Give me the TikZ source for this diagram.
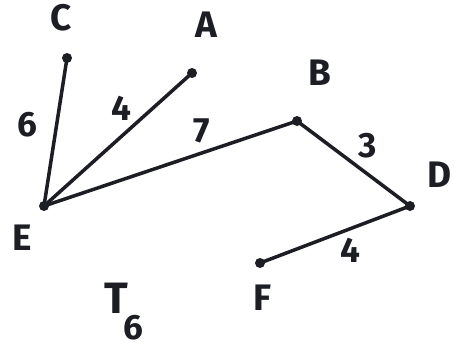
\documentclass[tikz,border=0pt]{standalone}
\usepackage{fontspec}
\setmainfont{Fira Sans}
\usetikzlibrary{positioning}
\definecolor{Ink}{RGB}{28,30,36}
\tikzset{
  vertex/.style={circle,fill=Ink,inner sep=0pt,minimum size=0.2cm},
  lbl/.style={Ink,font=\fontsize{21}{24}\selectfont\bfseries},
  wlbl/.style={Ink,font=\fontsize{20}{24}\selectfont\bfseries},
  connect/.style={Ink,line width=2pt,line cap=round}
}
\begin{document}
\begin{tikzpicture}[x=0.02cm,y=-0.02cm]
  \useasboundingbox[fill=white] (0,0) rectangle (454,349);
  % vertices
  \node[vertex] (C) at (67,58) {};
  \node[vertex] (A) at (192,73) {};
  \node[vertex] (B) at (297,121) {};
  \node[vertex] (D) at (410,206) {};
  \node[vertex] (E) at (44,206) {};
  \node[vertex] (F) at (260,263) {};
  % vertex names
  \node[lbl] (Cname) at (61,18) {C};
  \node[lbl] (Aname) at (206,25) {A};
  \node[lbl] (Bname) at (320,73) {B};
  \node[lbl] (Dname) at (440,175) {D};
  \node[lbl] (Ename) at (22,238) {E};
  \node[lbl] (Fname) at (262,298) {F};
  % edges
  \draw[connect] (E.center) -- (C.center);
  \draw[connect] (E.center) -- (A.center);
  \draw[connect] (E.center) -- (B.center);
  \draw[connect] (B.center) -- (D.center);
  \draw[connect] (D.center) -- (F.center);
  % weights
  \node[wlbl] (wEC) at (27,125) {6};
  \node[wlbl] (wEA) at (121,108) {4};
  \node[wlbl] (wEB) at (202,131) {7};
  \node[wlbl] (wBD) at (368,146) {3};
  \node[wlbl] (wDF) at (350,250) {4};
  % tree label
  \node[Ink,font=\fontsize{25}{28}\selectfont\bfseries] (tree) at (116,298) {T};
  \node[wlbl] (treesub) at (133,328) {6};
\end{tikzpicture}
\end{document}
